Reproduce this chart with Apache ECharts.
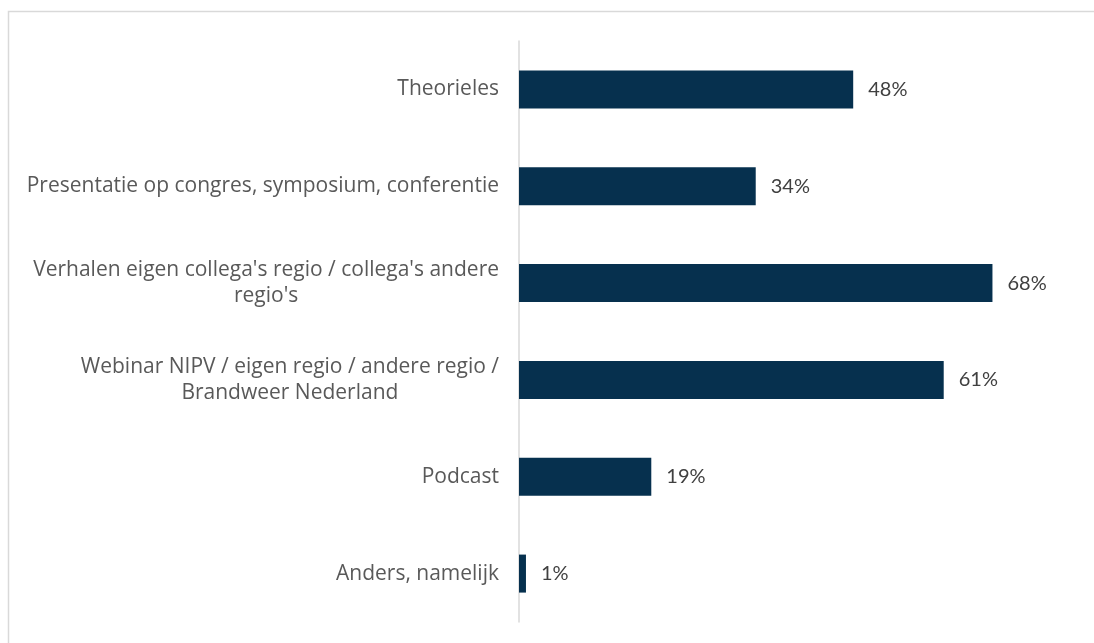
<!DOCTYPE html>
<html>
<head>
<meta charset="utf-8">
<script src="https://cdn.jsdelivr.net/npm/echarts@6/dist/echarts.min.js"></script>
<style>
html,body{margin:0;padding:0;background:#fff;}
#c{width:1094px;height:643px;}
</style>
</head>
<body>
<div id="c"></div>
<script>
const categories = [
  "Theorieles",
  "Presentatie op congres, symposium, conferentie",
  "Verhalen eigen collega's regio / collega's andere regio's",
  "Webinar NIPV / eigen regio / andere regio / Brandweer Nederland",
  "Podcast",
  "Anders, namelijk"
];
const values = [48, 34, 68, 61, 19, 1];

const LABEL_FONT = '21px "Open Sans"';
const MAX_W = 485;
const ctx = document.createElement('canvas').getContext('2d');
ctx.font = LABEL_FONT;
function wrap(text) {
  const words = text.split(' ');
  const lines = [];
  let cur = '';
  words.forEach(w => {
    const test = cur ? cur + ' ' + w : w;
    if (cur && ctx.measureText(test).width > MAX_W) { lines.push(cur); cur = w; }
    else cur = test;
  });
  if (cur) lines.push(cur);
  return lines.map(l => '{a|' + l + '}').join('\n');
}

const chart = echarts.init(document.getElementById('c'));
chart.setOption({
  animation: false,
  backgroundColor: '#fff',
  graphic: [{
    type: 'rect',
    shape: { x: 8.5, y: 11.5, width: 1100, height: 700 },
    style: { fill: 'none', stroke: '#d9d9d9', lineWidth: 1.5 },
    silent: true, z: -1
  }],
  grid: { left: 519, right: 18, top: 41, bottom: 21, containLabel: false },
  xAxis: {
    type: 'value', min: 0, max: 80, show: false
  },
  yAxis: {
    type: 'category',
    inverse: true,
    data: categories,
    axisLine: { show: true, lineStyle: { color: '#d9d9d9', width: 1.5 } },
    axisTick: { show: false },
    axisLabel: {
      color: '#595959',
      fontFamily: 'Open Sans',
      fontSize: 21,
      margin: 20,
      lineHeight: 26,
      align: 'right',
      formatter: v => wrap(v),
      rich: {
        a: { color: '#595959', fontFamily: 'Open Sans', fontSize: 21, lineHeight: 26, align: 'center' }
      }
    }
  },
  series: [{
    type: 'bar',
    data: values,
    barWidth: 38,
    itemStyle: { color: '#06304e' },
    label: {
      show: true,
      position: 'right',
      distance: 15,
      formatter: '{c}%',
      color: '#404040',
      fontFamily: 'Lato',
      fontSize: 20
    }
  }]
});
</script>
</body>
</html>
